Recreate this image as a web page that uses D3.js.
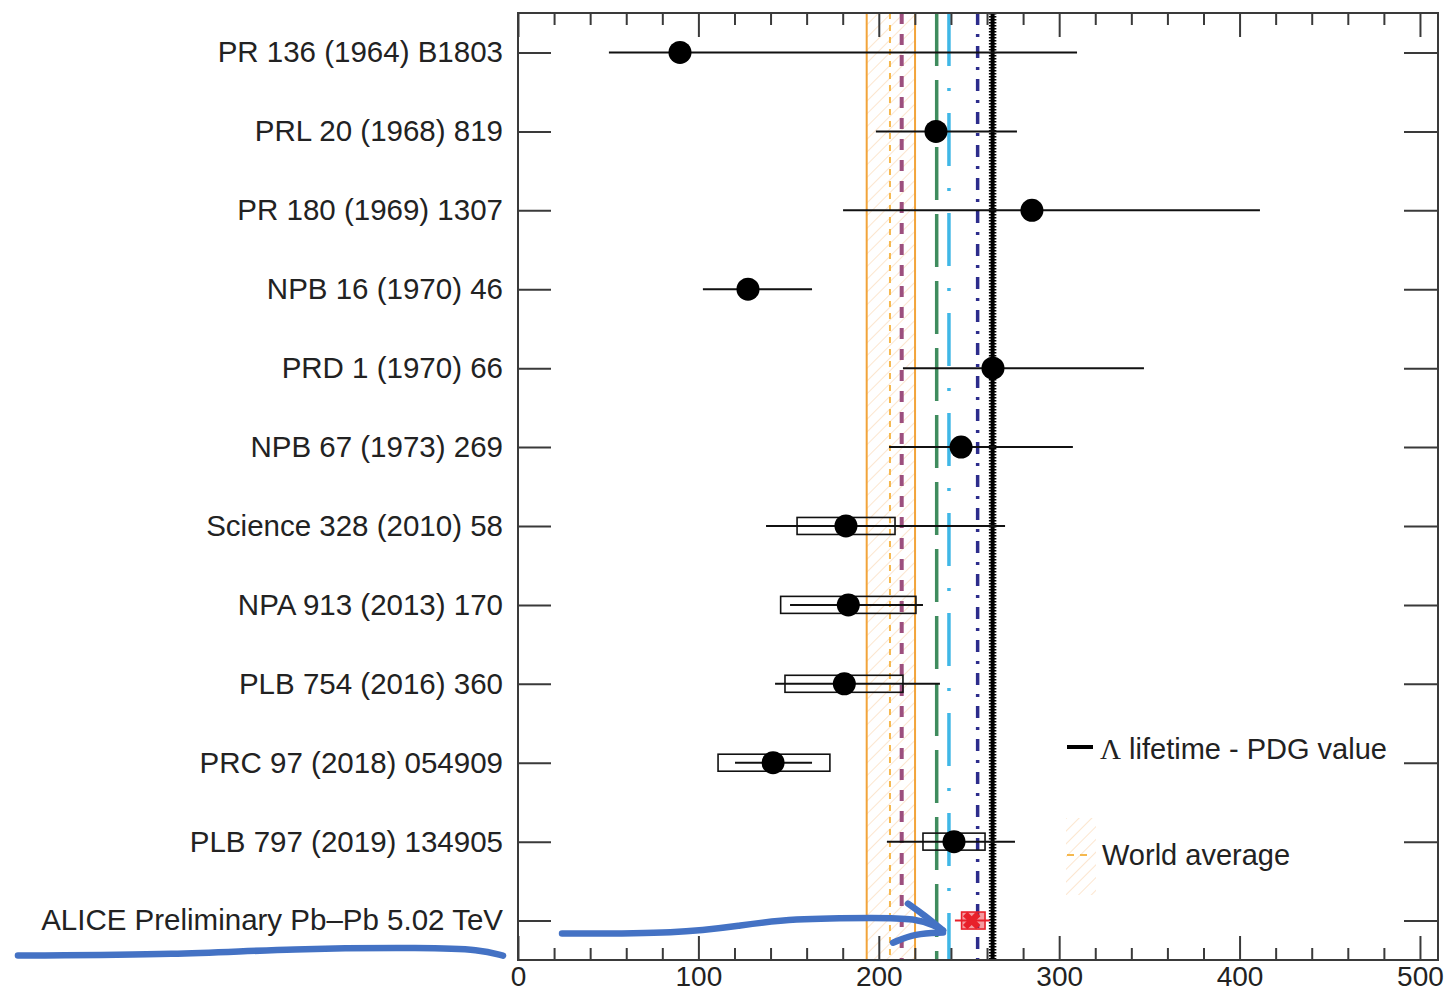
<!DOCTYPE html>
<html>
<head>
<meta charset="utf-8">
<script src="https://cdn.jsdelivr.net/npm/d3@7"></script>
<style>
  body { margin: 0; background: #fff; }
  svg { display: block; font-family: "Liberation Sans", Arial, Helvetica, sans-serif; }
  .tick text { fill: #222; }
</style>
</head>
<body>
<svg id="chart" width="1446" height="992"></svg>
<script>
// measurements, Lambda lifetime (ps)
const labels = [
  "PR 136 (1964) B1803", "PRL 20 (1968) 819", "PR 180 (1969) 1307", "NPB 16 (1970) 46",
  "PRD 1 (1970) 66", "NPB 67 (1973) 269", "Science 328 (2010) 58", "NPA 913 (2013) 170",
  "PLB 754 (2016) 360", "PRC 97 (2018) 054909", "PLB 797 (2019) 134905",
  "ALICE Preliminary Pb\u2013Pb 5.02 TeV"
];
const values   = [89.8, 231.7, 284.9, 127.5, 263.3, 245.6, 181.8, 183.1, 180.9, 141.4, 241.7, 251.5];
const statLow  = [50.4, 198.4, 180.2, 102.5, 213.4, 205.7, 137.5, 150.8, 142.5, 120.3, 204.5, 242.2];
const statHigh = [309.9, 276.6, 411.3, 163.0, 347.0, 307.6, 270.0, 224.5, 233.9, 163.0, 275.5, 261.6];
const sysLow   = [null, null, null, null, null, null, 154.7, 145.6, 148.0, 110.9, 224.5, 245.9];
const sysHigh  = [null, null, null, null, null, null, 209.0, 220.6, 213.4, 172.9, 258.9, 258.9];

// reference lines
const refNames  = ["wa", "purple", "green", "cyan", "navy", "pdg"];
const refValues = [206.2, 212.7, 232.1, 238.9, 254.8, 263.1];
const worldBand = [193.3, 220.1];

const majorTicks = [0, 100, 200, 300, 400, 500];
const minorTicks = d3.range(0, 501, 20).filter(v => v % 100 !== 0);

// hand-drawn blue annotation, in (ps, row index)
const arrowLeft  = [[-277.2, 11.444], [-187.4, 11.432], [-126.4, 11.356], [-48.8, 11.343], [-21.1, 11.368], [-8.3, 11.444]];
const arrowRight = [[24.4, 11.165], [89.8, 11.165], [123.1, 11.064], [150.8, 10.975], [200.7, 10.962], [220.1, 10.975], [231.2, 11.064], [235.6, 11.127]];
const arrowHeadA = [[216.2, 10.785], [225.6, 10.937], [235.6, 11.127]];
const arrowHeadB = [[207.9, 11.280], [220.1, 11.165], [235.6, 11.153]];

const svg = d3.select("#chart");
const pLeft = 518, pRight = 1438, pTop = 13, pBottom = 960;

const x = d3.scaleLinear().domain([0, 510]).range([pLeft, pRight]);
const y = d3.scalePoint().domain(labels).range([pTop, pBottom]).padding(0.5);
const yRow = d3.scaleLinear().domain([0, labels.length - 1]).range([y(labels[0]), y(labels[labels.length - 1])]);

// hatch pattern for world average band
const defs = svg.append("defs");
const pat = defs.append("pattern")
  .attr("id", "hatch")
  .attr("patternUnits", "userSpaceOnUse")
  .attr("width", 9).attr("height", 9)
  .attr("patternTransform", "rotate(45)");
pat.append("line")
  .attr("x1", 0).attr("y1", 0).attr("x2", 0).attr("y2", 9)
  .attr("stroke", "#f6c48a").attr("stroke-width", 1.3).attr("stroke-opacity", 0.65);

// band
svg.append("rect")
  .attr("x", x(worldBand[0])).attr("y", pTop)
  .attr("width", x(worldBand[1]) - x(worldBand[0])).attr("height", pBottom - pTop)
  .attr("fill", "url(#hatch)");
svg.selectAll(".bandEdge")
  .data(worldBand)
  .enter().append("line")
  .attr("class", "bandEdge")
  .attr("x1", d => x(d)).attr("x2", d => x(d))
  .attr("y1", pTop).attr("y2", pBottom)
  .attr("stroke", "#f2a43a").attr("stroke-width", 2);

// styles for reference lines
const refStyle = {
  wa:     { color: "#f5b84e", width: 2,   dash: "6,6" },
  purple: { color: "#9c4f7e", width: 4,   dash: "11,10" },
  green:  { color: "#3f8c5e", width: 3.5, dash: "53,14" },
  cyan:   { color: "#40b7e6", width: 3.5, dash: "53,22,3,22" },
  navy:   { color: "#2c2c8c", width: 3.5, dash: "12,9,3,9" },
  pdg:    { color: "#000",    width: 4,   dash: null }
};

svg.selectAll(".ref")
  .data(refNames)
  .enter().append("line")
  .attr("class", "ref")
  .attr("x1", (d, i) => x(refValues[i])).attr("x2", (d, i) => x(refValues[i]))
  .attr("y1", pTop).attr("y2", pBottom)
  .attr("stroke", d => refStyle[d].color)
  .attr("stroke-width", d => refStyle[d].width)
  .attr("stroke-dasharray", d => refStyle[d].dash);

// serrated edge of the PDG line
svg.append("line")
  .attr("x1", x(refValues[5])).attr("x2", x(refValues[5]))
  .attr("y1", pTop).attr("y2", pBottom)
  .attr("stroke", "#000").attr("stroke-width", 7.5)
  .attr("stroke-dasharray", "1.5,1.5");

// axes
const tickColor = "#3a3a3a";
function styleAxis(g) {
  g.select(".domain").remove();
  g.selectAll(".tick line").attr("stroke", tickColor).attr("stroke-width", 2);
}

svg.append("g")
  .attr("transform", `translate(0,${pBottom})`)
  .call(d3.axisBottom(x).tickValues(majorTicks).tickSizeInner(-24).tickSizeOuter(0).tickPadding(6))
  .call(styleAxis)
  .call(g => g.selectAll("text").attr("font-size", 28).attr("font-family", "Liberation Sans, Arial, sans-serif"));
svg.append("g")
  .attr("transform", `translate(0,${pBottom})`)
  .call(d3.axisBottom(x).tickValues(minorTicks).tickSizeInner(-12).tickSizeOuter(0).tickFormat(""))
  .call(styleAxis);
svg.append("g")
  .attr("transform", `translate(0,${pTop})`)
  .call(d3.axisTop(x).tickValues(majorTicks).tickSizeInner(-24).tickSizeOuter(0).tickFormat(""))
  .call(styleAxis);
svg.append("g")
  .attr("transform", `translate(0,${pTop})`)
  .call(d3.axisTop(x).tickValues(minorTicks).tickSizeInner(-12).tickSizeOuter(0).tickFormat(""))
  .call(styleAxis);

svg.append("g")
  .attr("transform", `translate(${pLeft},0)`)
  .call(d3.axisLeft(y).tickSizeInner(-33).tickSizeOuter(0).tickPadding(15))
  .call(styleAxis)
  .call(g => g.selectAll("text").attr("font-size", 29.5).attr("font-family", "Liberation Sans, Arial, sans-serif"));
svg.append("g")
  .attr("transform", `translate(${pRight},0)`)
  .call(d3.axisRight(y).tickSizeInner(-34).tickSizeOuter(0).tickFormat(""))
  .call(styleAxis);

// frame
svg.append("rect")
  .attr("x", pLeft).attr("y", pTop)
  .attr("width", pRight - pLeft).attr("height", pBottom - pTop)
  .attr("fill", "none").attr("stroke", tickColor).attr("stroke-width", 2);

// data
const rows = labels.map((l, i) => ({
  label: l, v: values[i], lo: statLow[i], hi: statHigh[i],
  sLo: sysLow[i], sHi: sysHigh[i], alice: i === labels.length - 1
}));

const g = svg.append("g");
g.selectAll(".stat")
  .data(rows)
  .enter().append("line")
  .attr("class", "stat")
  .attr("x1", d => x(d.lo)).attr("x2", d => x(d.hi))
  .attr("y1", d => y(d.label)).attr("y2", d => y(d.label))
  .attr("stroke", d => d.alice ? "#e8202a" : "#111")
  .attr("stroke-width", 2);

g.selectAll(".sys")
  .data(rows.filter(d => d.sLo != null))
  .enter().append("rect")
  .attr("class", "sys")
  .attr("x", d => x(d.sLo)).attr("width", d => x(d.sHi) - x(d.sLo))
  .attr("y", d => y(d.label) - 8.5).attr("height", 17)
  .attr("fill", d => d.alice ? "rgba(232,32,42,0.45)" : "none")
  .attr("stroke", d => d.alice ? "#e8202a" : "#111")
  .attr("stroke-width", 1.6);

g.selectAll(".pt")
  .data(rows.filter(d => !d.alice))
  .enter().append("circle")
  .attr("class", "pt")
  .attr("cx", d => x(d.v)).attr("cy", d => y(d.label))
  .attr("r", 11.5).attr("fill", "#000");

g.selectAll(".alicePt")
  .data(rows.filter(d => d.alice))
  .enter().append("path")
  .attr("class", "alicePt")
  .attr("transform", d => `translate(${x(d.v)},${y(d.label)}) rotate(45)`)
  .attr("d", d3.symbol().type(d3.symbolCross).size(190))
  .attr("fill", "#e8202a");

// legend
const legend = svg.append("g");
legend.append("line")
  .attr("x1", 1067).attr("x2", 1093).attr("y1", 747).attr("y2", 747)
  .attr("stroke", "#000").attr("stroke-width", 4);
const t1 = legend.append("text")
  .attr("x", 1100).attr("y", 759)
  .attr("font-size", 29).attr("fill", "#222");
t1.append("tspan").attr("font-family", "Liberation Serif, Times New Roman, serif").text("\u039b");
t1.append("tspan").text(" lifetime - PDG value");

legend.append("rect")
  .attr("x", 1066).attr("y", 818).attr("width", 30).attr("height", 77)
  .attr("fill", "url(#hatch)");
legend.append("line")
  .attr("x1", 1067).attr("x2", 1093).attr("y1", 855).attr("y2", 855)
  .attr("stroke", "#f5b84e").attr("stroke-width", 2).attr("stroke-dasharray", "7,6");
legend.append("text")
  .attr("x", 1102).attr("y", 865)
  .attr("font-size", 29).attr("fill", "#222")
  .text("World average");

// blue annotation strokes
const pen = d3.line().x(d => x(d[0])).y(d => yRow(d[1])).curve(d3.curveBasis);
svg.selectAll(".pen")
  .data([arrowLeft, arrowRight, arrowHeadA, arrowHeadB])
  .enter().append("path")
  .attr("class", "pen")
  .attr("d", pen)
  .attr("fill", "none")
  .attr("stroke", "#4472c4")
  .attr("stroke-width", 6.5)
  .attr("stroke-linecap", "round")
  .attr("stroke-linejoin", "round");
</script>
</body>
</html>
